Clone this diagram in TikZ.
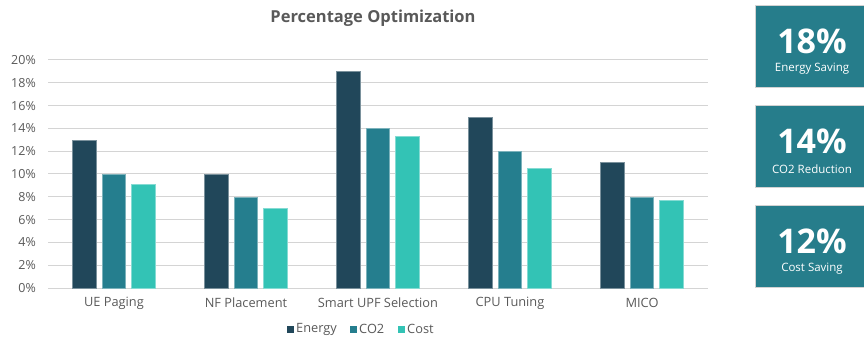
\documentclass[tikz,border=0pt]{standalone}
\usepackage{fontspec}
\setmainfont{Open Sans}
\definecolor{energyc}{HTML}{21475A}
\definecolor{co2c}{HTML}{257E8E}
\definecolor{costc}{HTML}{33C3B5}
\definecolor{boxc}{HTML}{267D8B}
\definecolor{labelc}{HTML}{595959}
\definecolor{gridc}{HTML}{D4D4D4}
\tikzset{
  gridline/.style={draw=gridc, line width=1pt},
  ticklabel/.style={anchor=east, text=labelc, font=\fontsize{12.5}{13}\selectfont, inner sep=0pt},
  catlabel/.style={text=labelc, font=\fontsize{12.8}{14}\selectfont, inner sep=0pt},
  bar/.style={line width=0.5pt},
  kpibox/.style={fill=boxc, draw=gray!35, line width=0.6pt, minimum width=109pt, minimum height=82pt, anchor=north west, inner sep=0pt},
  kpinum/.style={text=white, font=\bfseries\fontsize{34}{36}\selectfont, inner sep=0pt},
  kpitext/.style={text=white, font=\fontsize{11.5}{12}\selectfont, inner sep=0pt},
  legkey/.style={minimum size=7pt, inner sep=0pt},
  legtext/.style={anchor=west, text=labelc, font=\fontsize{12.8}{14}\selectfont, inner sep=0pt},
}
\begin{document}
\begin{tikzpicture}[x=1pt, y=-1pt]
\useasboundingbox (0,0) rectangle (864,339);
% title
\node[text=labelc, font=\bfseries\fontsize{16.5}{18}\selectfont] (title) at (373,18) {Percentage Optimization};
% horizontal grid and y-axis ticks (11.4 units per percent, 0% at y=288)
\foreach \v in {0,2,...,20} {
  \pgfmathsetmacro{\yy}{288-11.4*\v}
  \coordinate (gl\v) at (48,\yy);
  \coordinate (gr\v) at (708,\yy);
  \draw[gridline] (gl\v) -- (gr\v);
  \node[ticklabel] (tick\v) at (36,\yy) {\v\%};
}
% bars: group centre, label, energy, co2, cost
\foreach \cx/\lab/\e/\c/\s [count=\i] in {
  114/UE Paging/13/10/9.1,
  246/NF Placement/10/8/7,
  378/Smart UPF Selection/19/14/13.3,
  510/CPU Tuning/15/12/10.5,
  642/MICO/11/8/7.7} {
  \pgfmathsetmacro{\ye}{288-11.4*\e}
  \pgfmathsetmacro{\yc}{288-11.4*\c}
  \pgfmathsetmacro{\ys}{288-11.4*\s}
  \filldraw[bar, fill=energyc, draw=energyc!60!white] (\cx-41.5,288) rectangle (\cx-18,\ye);
  \filldraw[bar, fill=co2c, draw=co2c!60!white] (\cx-12,288) rectangle (\cx+11.5,\yc);
  \filldraw[bar, fill=costc, draw=costc!60!white] (\cx+17.5,288) rectangle (\cx+41,\ys);
  \node[catlabel] (cat\i) at (\cx,303) {\lab};
}
% legend
\node[legkey, fill=energyc] (kE) at (290.5,329) {};
\node[legtext] (tE) at (296,329) {Energy};
\node[legkey, fill=co2c] (kC) at (353.5,329) {};
\node[legtext] (tC) at (359,329) {CO2};
\node[legkey, fill=costc] (kS) at (401.5,329) {};
\node[legtext] (tS) at (407,329) {Cost};
% KPI boxes
\foreach \top/\num/\txt [count=\j] in {5/18/Energy Saving, 105/14/CO2 Reduction, 205/12/Cost Saving} {
  \node[kpibox] (box\j) at (755,\top) {};
  \node[kpinum] (num\j) at (812,\top+36) {\num\%};
  \node[kpitext] (txt\j) at (812,\top+64) {\txt};
}
\end{tikzpicture}
\end{document}
